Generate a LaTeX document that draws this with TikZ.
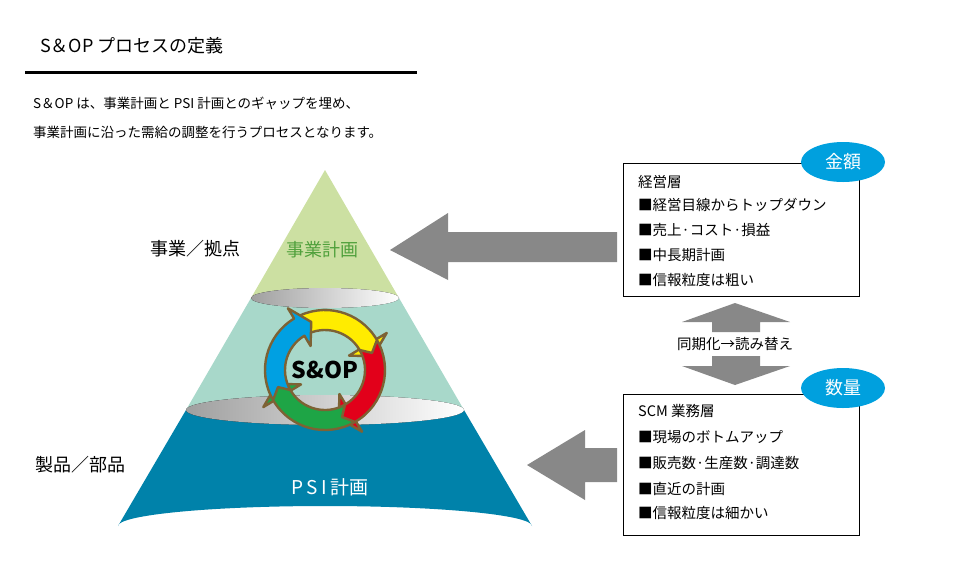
\documentclass[tikz,border=0pt]{standalone}
\usepackage{fontspec}
\setmainfont{Noto Sans CJK JP}
\usetikzlibrary{positioning,shapes.geometric}

\definecolor{topgreen}{RGB}{204,224,162}
\definecolor{midgreen}{RGB}{168,216,202}
\definecolor{psiblue}{RGB}{0,130,170}
\definecolor{plangreen}{RGB}{80,160,60}
\definecolor{arrowgray}{RGB}{136,136,136}
\definecolor{ringbrown}{RGB}{125,98,52}
\definecolor{badgeblue}{RGB}{0,160,222}
\definecolor{cyyellow}{RGB}{255,236,0}
\definecolor{cyred}{RGB}{226,0,26}
\definecolor{cygreen}{RGB}{30,165,70}
\definecolor{cyblue}{RGB}{0,160,226}

\tikzstyle{bigarrow} = [fill=arrowgray, draw=none]
\tikzstyle{cut} = [left color=gray!75, right color=white, draw=none]
\tikzstyle{infobox} = [draw, line width=0.8pt, fill=white]
\tikzstyle{badge} = [ellipse, fill=badgeblue, text=white, minimum width=84, minimum height=40, inner sep=0pt, font=\fontsize{18}{18}\selectfont]
\tikzstyle{item} = [anchor=west, inner sep=0pt, font=\fontsize{14.5}{15}\selectfont]

% one curved arrow of the cycle: start angle, tip angle, colour
\newcommand{\cyclearrow}[3]{
	\filldraw[fill=#3, draw=ringbrown, line width=2.4pt, line join=round]
		(#1:60) arc[start angle=#1, end angle=#2+15, radius=60]
		-- (#2+15:72) -- (#2:50) -- (#2+15:28)
		-- (#2+15:40) arc[start angle=#2+15, end angle=#1, radius=40]
		-- (#1-10:50) -- cycle;
}

\begin{document}
\begin{tikzpicture}[x=1pt, y=-1pt]
	\useasboundingbox (0,0) rectangle (960,587);

	% title
	\node[anchor=west, inner sep=0pt, font=\fontsize{18}{18}\selectfont] (title) at (40,46) {S＆OP プロセスの定義};
	\draw[line width=3pt] (25,72) -- (417,72);
	\node[anchor=west, inner sep=0pt, font=\fontsize{13.5}{14}\selectfont] (desc1) at (33,103) {S＆OP は、事業計画と PSI 計画とのギャップを埋め、};
	\node[anchor=west, inner sep=0pt, font=\fontsize{13.5}{14}\selectfont] (desc2) at (33,132) {事業計画に沿った需給の調整を行うプロセスとなります。};

	% pyramid
	\fill[psiblue] (186,410) -- (464,410) -- (532,526) arc[start angle=0, end angle=-180, x radius=207, y radius=20] -- cycle;
	\fill[midgreen] (251,298) -- (399,298) -- (464,410) -- (186,410) -- cycle;
	\fill[topgreen] (325,170) -- (399,298) -- (251,298) -- cycle;
	\fill[cut] (325,298) ellipse [x radius=74, y radius=10];
	\fill[cut] (325,410) ellipse [x radius=139, y radius=15];

	\node[text=plangreen, font=\fontsize{18}{18}\selectfont] (biz) at (322,250) {事業計画};
	\node[text=white, font=\fontsize{19}{19}\selectfont] (psi) at (330,487) {P\,S\,I\,計画};
	\node[font=\fontsize{18}{18}\selectfont] (bizlevel) at (195,249) {事業／拠点};
	\node[font=\fontsize{18}{18}\selectfont] (prodlevel) at (80,465) {製品／部品};

	% cycle
	\begin{scope}[shift={(325,370)}, yscale=-1]
		\cyclearrow{120}{16}{cyyellow}
		\cyclearrow{30}{-74}{cyred}
		\cyclearrow{-60}{-164}{cygreen}
		\cyclearrow{-150}{-254}{cyblue}
	\end{scope}
	\node[font=\bfseries\fontsize{23}{23}\selectfont] (sop) at (325,370) {S\&OP};

	% big arrows
	\fill[bigarrow] (617,232) -- (448,232) -- (448,213) -- (390,250) -- (448,280) -- (448,262) -- (617,262) -- cycle;
	\fill[bigarrow] (617,448) -- (585,448) -- (585,430) -- (527,465) -- (585,500) -- (585,482) -- (617,482) -- cycle;

	% upper box
	\draw[infobox] (623,163) rectangle (859,296);
	\node[item] (m0) at (638,182) {経営層};
	\node[item] (m1) at (638,205) {■経営目線からトップダウン};
	\node[item] (m2) at (638,230) {■売上·コスト·損益};
	\node[item] (m3) at (638,255) {■中長期計画};
	\node[item] (m4) at (638,280) {■信報粒度は粗い};
	\node[badge] (money) at (843,162) {金額};

	% sync arrows
	\fill[bigarrow] (735,303) -- (790,322) -- (760,322) -- (760,332) -- (712,332) -- (712,322) -- (682,322) -- cycle;
	\fill[bigarrow] (712,356) -- (760,356) -- (760,366) -- (790,366) -- (735,385) -- (682,366) -- (712,366) -- cycle;
	\node[font=\fontsize{14.5}{15}\selectfont] (sync) at (735,344) {同期化→読み替え};

	% lower box
	\draw[infobox] (623,394) rectangle (859,535);
	\node[item] (s0) at (638,411) {SCM 業務層};
	\node[item] (s1) at (638,437) {■現場のボトムアップ};
	\node[item] (s2) at (638,463) {■販売数·生産数·調達数};
	\node[item] (s3) at (638,489) {■直近の計画};
	\node[item] (s4) at (638,513) {■信報粒度は細かい};
	\node[badge] (qty) at (843,388) {数量};
\end{tikzpicture}
\end{document}
